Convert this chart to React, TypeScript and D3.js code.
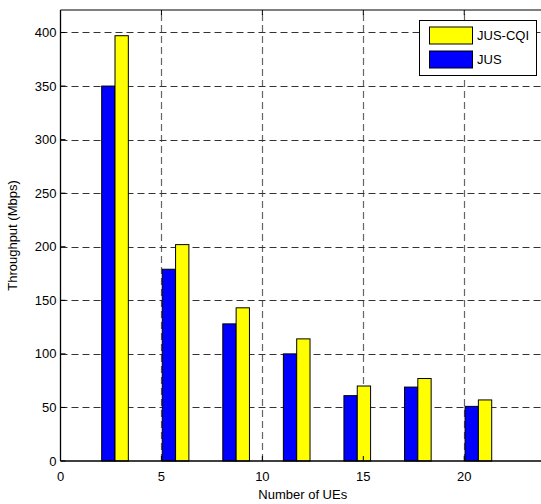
import React from "react";
import * as d3 from "d3";

const groupX = [2.7, 5.7, 8.7, 11.7, 14.7, 17.7, 20.7];
const jus = [350, 179, 128, 100, 61, 69, 51];
const jusCqi = [397, 202, 143, 114, 70, 77, 57];
const xTicks = [0, 5, 10, 15, 20];
const yTicks = [0, 50, 100, 150, 200, 250, 300, 350, 400];
const seriesNames = ["JUS-CQI", "JUS"];
const seriesColors = ["#ffff00", "#0000ff"];

export default function App() {
  const W = 541, H = 504;
  const left = 60.5, right = 545, top = 10, bottom = 461;
  const x = d3.scaleLinear().domain([0, 24]).range([left, right]);
  const y = d3.scaleLinear().domain([0, 421]).range([bottom, top]);
  const bw = x(0.66) - x(0);
  const font = "Liberation Sans, Arial, sans-serif";
  const grid = "#333";
  return (
    <svg width={W} height={H} style={{ position: "fixed", left: 0, top: 0, background: "#fff" }} fontFamily={font}>
      <rect x={0} y={0} width={W} height={H} fill="#fff" />
      {yTicks.filter(t => t > 0).map(t => (
        <line key={"gy" + t} x1={left} x2={right} y1={Math.round(y(t)) + 0.5} y2={Math.round(y(t)) + 0.5}
          stroke={grid} strokeDasharray="7,4" strokeWidth={1} />
      ))}
      {xTicks.filter(t => t > 0).map(t => (
        <line key={"gx" + t} x1={Math.round(x(t)) + 0.5} x2={Math.round(x(t)) + 0.5} y1={bottom} y2={top}
          stroke={grid} strokeOpacity={0.75} strokeDasharray="7,4" strokeWidth={1.2} />
      ))}
      {groupX.map((g, i) => (
        <g key={"b" + i}>
          <rect x={x(g) - bw} y={y(jus[i])} width={bw} height={y(0) - y(jus[i])}
            fill={seriesColors[1]} stroke="#000" strokeWidth={1} />
          <rect x={x(g)} y={y(jusCqi[i])} width={bw} height={y(0) - y(jusCqi[i])}
            fill={seriesColors[0]} stroke="#000" strokeWidth={1} />
        </g>
      ))}
      <line x1={left} x2={right} y1={bottom} y2={bottom} stroke="#000" strokeWidth={1.3} />
      <line x1={left} x2={right} y1={top} y2={top} stroke="#000" strokeWidth={1} />
      <line x1={left} x2={left} y1={top} y2={bottom} stroke="#000" strokeWidth={1.3} />
      {yTicks.map(t => (
        <g key={"yt" + t}>
          <line x1={left} x2={left + 5} y1={y(t)} y2={y(t)} stroke="#000" />
          <text x={left - 4} y={y(t)} dy="0.35em" textAnchor="end" fontSize={13}>{t}</text>
        </g>
      ))}
      {xTicks.map(t => (
        <g key={"xt" + t}>
          <line x1={x(t)} x2={x(t)} y1={bottom} y2={bottom - 5} stroke="#000" />
          <line x1={x(t)} x2={x(t)} y1={top} y2={top + 5} stroke="#000" />
          <text x={x(t)} y={bottom + 20} textAnchor="middle" fontSize={13}>{t}</text>
        </g>
      ))}
      <text x={(left + right) / 2} y={499} textAnchor="middle" fontSize={13}>Number of UEs</text>
      <text transform={`translate(17, ${(top + bottom) / 2}) rotate(-90)`} textAnchor="middle" fontSize={13}>Throughput (Mbps)</text>
      <rect x={419.5} y={20.5} width={117} height={55} fill="#fff" stroke="#000" strokeWidth={1} />
      {seriesNames.map((n, i) => (
        <g key={"lg" + i}>
          <rect x={429.5} y={27 + i * 24} width={43} height={17} fill={seriesColors[i]} stroke="#000" />
          <text x={477} y={35.5 + i * 24} dy="0.35em" fontSize={13}>{n}</text>
        </g>
      ))}
    </svg>
  );
}
